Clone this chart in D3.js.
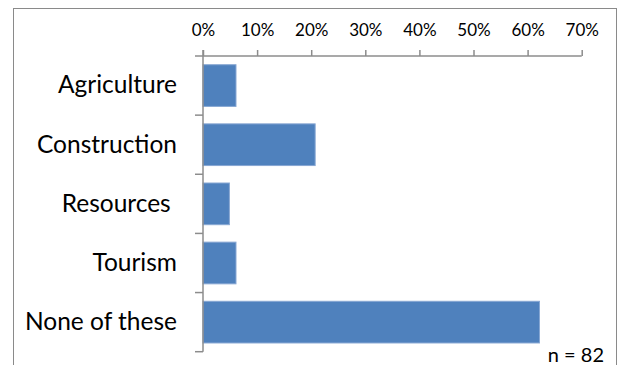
<!DOCTYPE html>
<html>
<head>
<meta charset="utf-8">
<script src="https://cdn.jsdelivr.net/npm/d3@7"></script>
<style>
  html, body { margin: 0; padding: 0; background: #fff; }
  svg { display: block; font-family: Lato, "Open Sans", sans-serif; }
</style>
</head>
<body>
<svg id="chart" width="622" height="365"></svg>
<script>
// Share of respondents (n = 82) by industry
const categories = ["Agriculture", "Construction", "Resources ", "Tourism", "None of these"];
const counts = [5, 17, 4, 5, 51];
const total = 82;
const shares = counts.map(c => c / total);
const tickValues = [0, 0.1, 0.2, 0.3, 0.4, 0.5, 0.6, 0.7];
const noteText = "n = " + total;

const svg = d3.select("#chart");
const axisColor = "#8c8c8c";

// chart frame (runs past the bottom edge)
svg.append("rect")
  .attr("x", 13.5).attr("y", 8.5)
  .attr("width", 603).attr("height", 380)
  .attr("fill", "#fff")
  .attr("stroke", "#8a8a8a").attr("stroke-width", 1);

const x = d3.scaleLinear().domain([0, 0.7]).range([203, 581.7]);
const y = d3.scaleBand().domain(categories)
  .range([56, 351.7])
  .paddingInner(0.295).paddingOuter(0.1475);

// bars
svg.append("g").selectAll("rect")
  .data(categories)
  .join("rect")
  .attr("x", x(0))
  .attr("y", d => y(d))
  .attr("width", (d, i) => x(shares[i]) - x(0))
  .attr("height", y.bandwidth())
  .attr("fill", "#4f81bd")
  .attr("stroke", "#87a7d3")
  .attr("stroke-width", 1);

// value axis along the top
const xAxis = svg.append("g")
  .attr("transform", "translate(0,56)")
  .call(d3.axisTop(x).tickValues(tickValues)
    .tickFormat(d3.format(".0%"))
    .tickSize(6).tickSizeOuter(0).tickPadding(14));
xAxis.select(".domain").remove();
xAxis.selectAll(".tick line").attr("stroke", axisColor).attr("stroke-width", 1.5);
xAxis.selectAll(".tick text")
  .attr("fill", "#000").attr("font-size", 17)
  .attr("font-family", "Lato, sans-serif");

// horizontal axis line, extended left to the first category tick
svg.append("line")
  .attr("x1", x(0) - 8).attr("x2", x(0.7))
  .attr("y1", 56).attr("y2", 56)
  .attr("stroke", axisColor).attr("stroke-width", 1.5);

// category axis
const yAxis = svg.append("g")
  .attr("transform", `translate(${x(0)},0)`)
  .call(d3.axisLeft(y).tickSize(0).tickPadding(26));
yAxis.select(".domain").remove();
yAxis.selectAll(".tick text")
  .attr("fill", "#000").attr("font-size", 24.5)
  .attr("font-family", "Lato, sans-serif")
  .style("white-space", "pre");

const [y0, y1] = y.range();
svg.append("line")
  .attr("x1", x(0)).attr("x2", x(0))
  .attr("y1", y0 - 6).attr("y2", y1)
  .attr("stroke", axisColor).attr("stroke-width", 1.5);

// category boundary ticks
const bounds = d3.range(1, categories.length + 1).map(i => y0 + i * y.step());
svg.append("g").selectAll("line")
  .data(bounds)
  .join("line")
  .attr("x1", x(0) - 8).attr("x2", x(0))
  .attr("y1", d => d).attr("y2", d => d)
  .attr("stroke", axisColor).attr("stroke-width", 1.5);

// sample size note
svg.append("text")
  .attr("x", 604).attr("y", 361.5)
  .attr("text-anchor", "end")
  .attr("font-size", 20)
  .attr("fill", "#000")
  .text(noteText);
</script>
</body>
</html>
